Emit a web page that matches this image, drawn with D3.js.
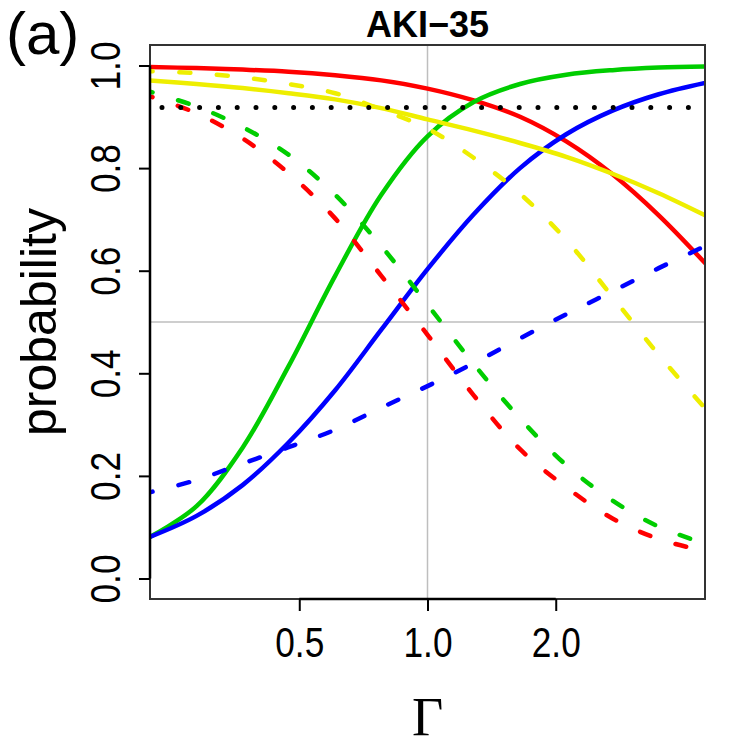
<!DOCTYPE html>
<html>
<head>
<meta charset="utf-8">
<script src="https://cdn.jsdelivr.net/npm/d3@7"></script>
<style>
  body { margin: 0; background: #fff; }
  svg text { font-family: "Liberation Sans", Arial, sans-serif; fill: #000; }
</style>
</head>
<body>
<div id="chart"></div>
<script>
// Gamma grid (log spaced) and the probability curves
var gammas = [0.223, 0.287, 0.368, 0.472, 0.607, 0.779, 1.0, 1.284, 1.649, 2.117, 2.718, 3.490, 4.482];

var redSolid    = [0.997, 0.995, 0.992, 0.988, 0.981, 0.971, 0.955, 0.932, 0.900, 0.852, 0.788, 0.708, 0.615];
var greenSolid  = [0.081, 0.141, 0.255, 0.414, 0.590, 0.748, 0.862, 0.929, 0.964, 0.982, 0.991, 0.996, 0.998];
var blueSolid   = [0.081, 0.122, 0.182, 0.265, 0.367, 0.485, 0.603, 0.710, 0.800, 0.866, 0.912, 0.944, 0.966];
var yellowSolid = [0.971, 0.964, 0.956, 0.946, 0.934, 0.917, 0.895, 0.873, 0.849, 0.822, 0.789, 0.751, 0.708];

var redDashed    = [0.940, 0.907, 0.858, 0.790, 0.702, 0.590, 0.475, 0.357, 0.252, 0.178, 0.117, 0.077, 0.053];
var greenDashed  = [0.949, 0.920, 0.880, 0.826, 0.748, 0.648, 0.534, 0.418, 0.312, 0.221, 0.152, 0.101, 0.068];
var blueDashed   = [0.168, 0.192, 0.224, 0.256, 0.290, 0.333, 0.375, 0.420, 0.468, 0.515, 0.560, 0.605, 0.648];
var yellowDashed = [0.989, 0.985, 0.977, 0.964, 0.946, 0.914, 0.877, 0.820, 0.750, 0.660, 0.549, 0.436, 0.332];

var threshold = 0.918;
var xTicks = [0.5, 1.0, 2.0];
var yTicks = [0.0, 0.2, 0.4, 0.6, 0.8, 1.0];
var chartTitle = "AKI\u221235";
var panelLabel = "(a)";

var series = [
  { values: redSolid, color: "#ff0000", dashed: false },
  { values: greenSolid, color: "#00cd00", dashed: false },
  { values: blueSolid, color: "#0000ff", dashed: false },
  { values: yellowSolid, color: "#eeee00", dashed: false },
  { values: redDashed, color: "#ff0000", dashed: true },
  { values: greenDashed, color: "#00cd00", dashed: true },
  { values: blueDashed, color: "#0000ff", dashed: true },
  { values: yellowDashed, color: "#eeee00", dashed: true }
];

function ProbChart(_parentElement) {
  this.parentElement = _parentElement;
  this.initVis();
}

ProbChart.prototype.initVis = function () {
  var vis = this;
  vis.margin = { top: 45, right: 45, bottom: 151, left: 150 };
  vis.width = 750 - vis.margin.left - vis.margin.right;
  vis.height = 750 - vis.margin.top - vis.margin.bottom;

  vis.svg = d3.select("#" + vis.parentElement).append("svg")
    .attr("width", 750)
    .attr("height", 750)
    .append("g")
    .attr("transform", "translate(" + vis.margin.left + "," + vis.margin.top + ")");

  vis.x = d3.scaleLog()
    .domain([Math.exp(-1.5), Math.exp(1.5)])
    .range([0, vis.width]);
  vis.y = d3.scaleLinear()
    .domain([-0.04, 1.04])
    .range([vis.height, 0]);

  vis.svg.append("clipPath").attr("id", "plotclip")
    .append("rect").attr("width", vis.width).attr("height", vis.height);

  vis.updateVis();
};

ProbChart.prototype.updateVis = function () {
  var vis = this;

  // reference lines
  vis.svg.append("line")
    .attr("x1", vis.x(1)).attr("x2", vis.x(1))
    .attr("y1", 0).attr("y2", vis.height)
    .attr("stroke", "#bebebe").attr("stroke-width", 1.5);
  vis.svg.append("line")
    .attr("x1", 0).attr("x2", vis.width)
    .attr("y1", vis.y(0.5)).attr("y2", vis.y(0.5))
    .attr("stroke", "#bebebe").attr("stroke-width", 1.5);

  var plot = vis.svg.append("g").attr("clip-path", "url(#plotclip)");

  var line = d3.line()
    .x(function (d, i) { return vis.x(gammas[i]); })
    .y(function (d) { return vis.y(d); })
    .curve(d3.curveCatmullRom.alpha(0.5));

  plot.selectAll(".curve")
    .data(series)
    .enter().append("path")
    .attr("class", "curve")
    .attr("d", function (d) { return line(d.values); })
    .attr("fill", "none")
    .attr("stroke", function (d) { return d.color; })
    .attr("stroke-width", 4.5)
    .attr("stroke-linecap", "round")
    .attr("stroke-dasharray", function (d) { return d.dashed ? "11,26.5" : null; })
    .attr("stroke-dashoffset", function (d) { return d.dashed ? 8 : null; });

  // dotted threshold
  plot.append("line")
    .attr("x1", 0).attr("x2", vis.width)
    .attr("y1", vis.y(threshold)).attr("y2", vis.y(threshold))
    .attr("stroke", "#000").attr("stroke-width", 5)
    .attr("stroke-linecap", "round")
    .attr("stroke-dasharray", "0,18.8")
    .attr("stroke-dashoffset", 6.8);

  // frame
  vis.svg.append("rect")
    .attr("width", vis.width).attr("height", vis.height)
    .attr("fill", "none").attr("stroke", "#333").attr("stroke-width", 2);

  // axes (tick labels squeezed to look like a narrow face)
  var xAxis = d3.axisBottom(vis.x)
    .tickValues(xTicks)
    .tickFormat(d3.format(".1f"))
    .tickSize(12);
  var gx = vis.svg.append("g")
    .attr("transform", "translate(0," + vis.height + ")")
    .call(xAxis);
  gx.select(".domain").remove();
  gx.append("line")
    .attr("x1", vis.x(xTicks[0])).attr("x2", vis.x(xTicks[xTicks.length - 1]))
    .attr("stroke", "#000").attr("stroke-width", 2.5);
  gx.selectAll(".tick line").attr("stroke", "#000").attr("stroke-width", 2);
  gx.selectAll(".tick text")
    .attr("transform", "translate(0,58) scale(0.82,1)")
    .attr("y", 0).attr("dy", 0)
    .style("font-family", "'Liberation Sans', Arial, sans-serif")
    .style("font-size", "43px");

  var yAxis = d3.axisLeft(vis.y)
    .tickValues(yTicks)
    .tickFormat(d3.format(".1f"))
    .tickSize(11);
  var gy = vis.svg.append("g").call(yAxis);
  gy.select(".domain").remove();
  gy.append("line")
    .attr("y1", vis.y(yTicks[0])).attr("y2", vis.y(yTicks[yTicks.length - 1]))
    .attr("stroke", "#000").attr("stroke-width", 2.5);
  gy.selectAll(".tick line").attr("stroke", "#000").attr("stroke-width", 2);
  gy.selectAll(".tick text")
    .attr("transform", "rotate(-90) scale(0.82,1)")
    .attr("x", 0).attr("y", -30).attr("dy", 0)
    .attr("text-anchor", "middle")
    .style("font-family", "'Liberation Sans', Arial, sans-serif")
    .style("font-size", "43px");

  // labels
  vis.svg.append("text")
    .attr("x", vis.width / 2).attr("y", -8)
    .attr("text-anchor", "middle")
    .style("font-size", "36px").style("font-weight", "bold")
    .text(chartTitle);

  vis.svg.append("text")
    .attr("transform", "translate(-94," + (vis.height / 2) + ") rotate(-90)")
    .attr("text-anchor", "middle")
    .style("font-size", "50px")
    .text("probability");

  vis.svg.append("text")
    .attr("x", vis.x(1)).attr("y", 690)
    .attr("text-anchor", "middle")
    .style("font-family", "'Liberation Serif', 'Times New Roman', serif")
    .style("font-size", "54px")
    .text("\u0393");

  d3.select("#" + vis.parentElement + " svg").append("text")
    .attr("x", 6).attr("y", 54)
    .style("font-size", "60px")
    .text(panelLabel);
};

var chart = new ProbChart("chart");
</script>
</body>
</html>
